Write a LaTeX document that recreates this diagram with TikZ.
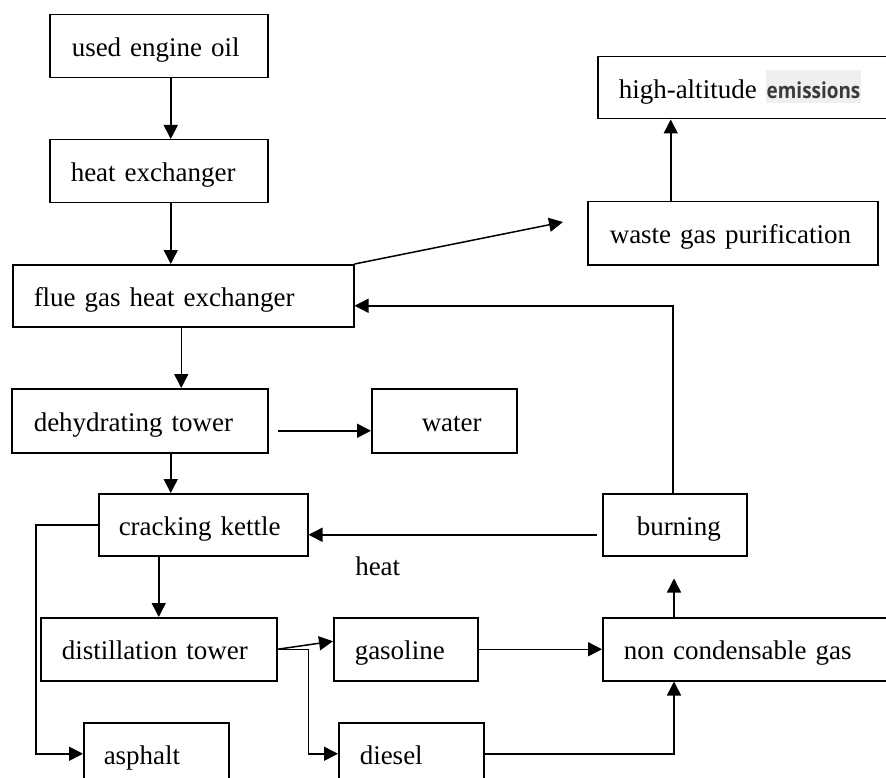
\documentclass[tikz,border=0pt]{standalone}
\usepackage{fontspec, graphicx, xcolor}
\setmainfont{Liberation Serif}
\newfontfamily\emisfont{Open Sans}
\usetikzlibrary{arrows.meta}
\definecolor{emisgray}{HTML}{3A3A3A}
\definecolor{emisback}{HTML}{EFEFEF}
\newcommand\pad[1]{\hspace*{#1pt}}
\newcommand\emis{{\fboxsep=0pt\colorbox{emisback}{\rule[-5pt]{0pt}{33pt}\hspace{1pt}%
  \scalebox{0.86}[1]{\color{emisgray}\emisfont\bfseries\fontsize{22}{24}\selectfont emissions}\hspace{1pt}}}}

\begin{document}
\begin{tikzpicture}[
  x=1pt,
  y=-1pt,
  font=\fontsize{27}{32}\selectfont,
  unit/.style={draw, line width=1.5pt, anchor=north west, inner xsep=0pt,
    inner ysep=0pt, align=left, text height=25pt, text depth=4pt},
  flow/.style={line width=1.5pt, -{Triangle[length=14pt,width=14pt]}}]
\useasboundingbox (0,0) rectangle (886,778);
\clip (0,0) rectangle (886,778);
\node[unit, text width=218pt, minimum height=63pt] (oil) at (49,14) {\pad{22}used engine oil};
\node[unit, text width=218pt, minimum height=63pt] (heatex) at (49,139) {\pad{21}heat exchanger};
\node[unit, text width=341pt, minimum height=62pt] (flue) at (12,264) {\pad{21}flue gas heat exchanger};
\node[unit, text width=320pt, minimum height=62pt] (emis) at (597,56) {\pad{21}high-altitude \emis};
\node[unit, text width=290pt, minimum height=63pt] (purif) at (587,201) {\pad{22}waste gas purification};
\node[unit, text width=256pt, minimum height=64pt] (dehyd) at (11,388) {\pad{22}dehydrating tower};
\node[unit, text width=145pt, minimum height=64pt] (water) at (371,388) {\pad{50}water};
\node[unit, text width=209pt, minimum height=62pt] (crack) at (98,493) {\pad{20}cracking kettle};
\node[unit, text width=144pt, minimum height=62pt] (burn) at (602,493) {\pad{34}burning};
\node[unit, text width=236pt, minimum height=63pt] (distil) at (40,617) {\pad{21}distillation tower};
\node[unit, text width=144pt, minimum height=63pt] (gasol) at (333,617) {\pad{21}gasoline};
\node[unit, text width=300pt, minimum height=63pt] (noncond) at (602,617) {\pad{21}non condensable gas};
\node[unit, text width=145pt, minimum height=62pt] (asph) at (83,722) {\pad{20}asphalt};
\node[unit, text width=145pt, minimum height=62pt] (diesel) at (338,722) {\pad{21}diesel};

\coordinate (purif in) at (563,222);
\draw[flow] ([xshift=12pt]oil.south) -- ([xshift=12pt]heatex.north);
\draw[flow] ([xshift=12pt]heatex.south) -- ([xshift=12pt]heatex.south |- flue.north);
\draw[flow] (flue.north east) -- (purif in);
\draw[flow] ([xshift=-62pt]purif.north) -- ([xshift=-62pt]purif.north |- emis.south);
\draw[flow] ([xshift=-2pt]flue.south) -- ([xshift=-2pt]flue.south |- dehyd.north);
\draw[flow] ([xshift=9pt,yshift=-10pt]dehyd.east) -- ([yshift=-10pt]water.west);
\draw[flow] ([xshift=31pt]dehyd.south) -- ([xshift=31pt]dehyd.south |- crack.north);
\draw[flow] (crack.south -| distil.north) -- (distil.north);
\draw[flow] (crack.west) -- ++(-62,0) |- (asph.west);
\draw[flow] ([xshift=-5pt,yshift=-10pt]burn.west)
  -- node[pos=0.76, yshift=-32pt] (heat) {heat} ([yshift=-10pt]crack.east);
\draw[flow] ([xshift=71pt]burn.north west) |- ([yshift=-10pt]flue.east);
\draw[flow] (distil.east) -- ([yshift=8pt]gasol.west);
\draw[flow] (distil.east) -- ++(31,0) |- (diesel.west);
\draw[flow] (gasol.east) -- (noncond.west);
\draw[flow] (diesel.east) -| ([xshift=72pt]noncond.south west);
\draw[flow] ([xshift=72pt]noncond.north west) -- ([xshift=72pt,yshift=-22pt]burn.south west);
\end{tikzpicture}
\end{document}
